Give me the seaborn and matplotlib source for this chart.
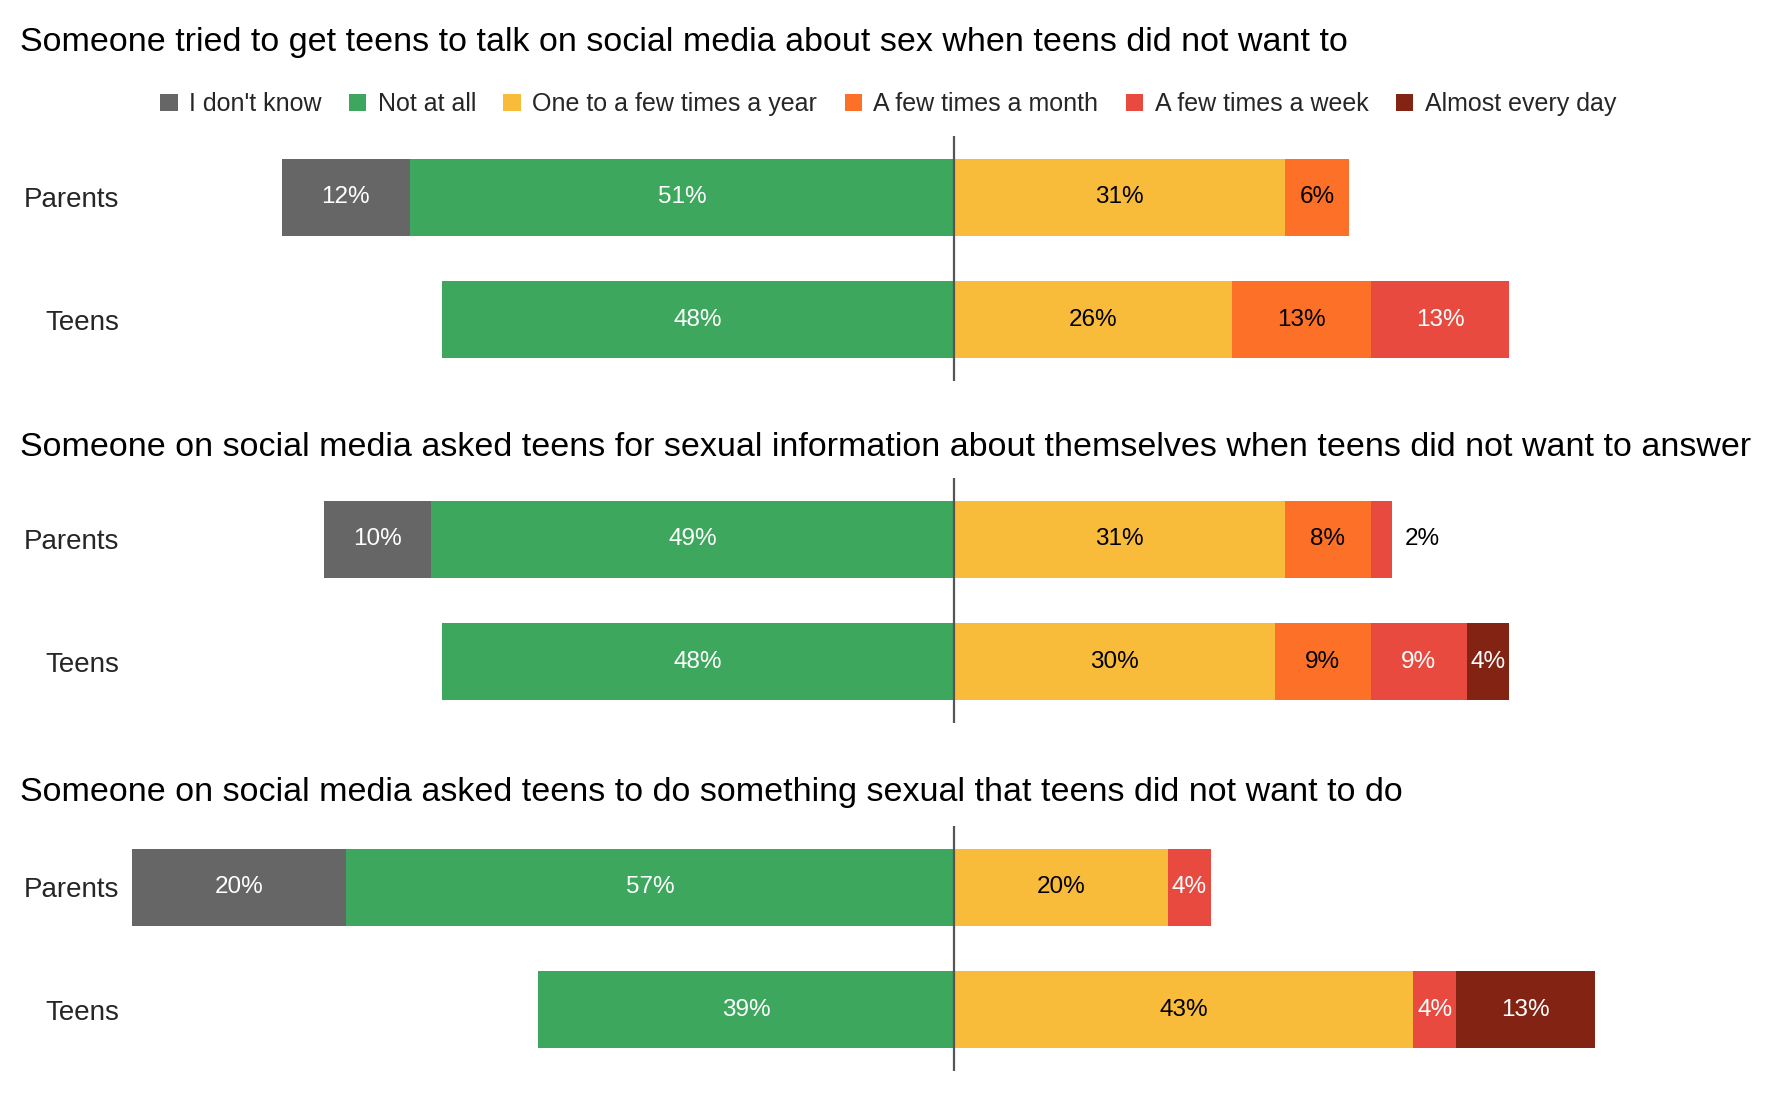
import pandas as pd
import numpy as np
import seaborn as sns
import matplotlib.pyplot as plt
from matplotlib.patches import Patch

sns.set_style("white")
plt.rcParams['font.family'] = ['Liberation Sans', 'DejaVu Sans']

groups = ["Parents", "Teens"]
categories = ["I don't know", "Not at all", "One to a few times a year",
              "A few times a month", "A few times a week", "Almost every day"]
colors = ["#666666", "#3da75d", "#f8bc3a", "#fc7127", "#e84a3f", "#832314"]
text_colors = ["white", "white", "black", "black", "white", "white"]

titles = [
    "Someone tried to get teens to talk on social media about sex when teens did not want to",
    "Someone on social media asked teens for sexual information about themselves when teens did not want to answer",
    "Someone on social media asked teens to do something sexual that teens did not want to do",
]

# percentages, same order as categories
q1_parents = [12, 51, 31, 6, 0, 0]
q1_teens = [0, 48, 26, 13, 13, 0]
q2_parents = [10, 49, 31, 8, 2, 0]
q2_teens = [0, 48, 30, 9, 9, 4]
q3_parents = [20, 57, 20, 0, 4, 0]
q3_teens = [0, 39, 43, 0, 4, 13]

questions = [(q1_parents, q1_teens), (q2_parents, q2_teens), (q3_parents, q3_teens)]

W, H = 1770, 1096
fig = plt.figure(figsize=(W / 100, H / 100), dpi=100)

panel_tops = [136, 478, 826]
panel_h = 245

for qi, (par, teen) in enumerate(questions):
    top = panel_tops[qi]
    ax = fig.add_axes([130 / W, 1 - (top + panel_h) / H, 1640 / W, panel_h / H])
    df = pd.DataFrame([par, teen], columns=categories)
    df["group"] = groups

    # left side: cumulative from the centre outwards
    left_cum = -(df["I don't know"] + df["Not at all"])
    sns.barplot(x=left_cum, y=df["group"], orient="h", color=colors[0], saturation=1,
                width=0.63, linewidth=0, errorbar=None, ax=ax)
    sns.barplot(x=-df["Not at all"], y=df["group"], orient="h", color=colors[1], saturation=1,
                width=0.63, linewidth=0, errorbar=None, ax=ax)

    # right side: draw longest cumulative first
    right_cats = categories[2:]
    cums = df[right_cats].cumsum(axis=1)
    for ci in range(len(right_cats) - 1, -1, -1):
        sns.barplot(x=cums[right_cats[ci]], y=df["group"], orient="h", color=colors[ci + 2],
                    saturation=1, width=0.63, linewidth=0, errorbar=None, ax=ax)

    # value labels
    for gi in range(2):
        vals = df.loc[gi, categories].values
        idk, notall = vals[0], vals[1]
        if idk > 0:
            ax.text(-(notall + idk / 2), gi, f"{idk}%", ha="center", va="center",
                    color=text_colors[0], fontsize=17.5)
        if notall > 0:
            ax.text(-notall / 2, gi, f"{notall}%", ha="center", va="center",
                    color=text_colors[1], fontsize=17.5)
        start = 0
        for ci in range(2, 6):
            v = vals[ci]
            if v > 0:
                if v < 3:
                    ax.text(start + v + 1.2, gi, f"{v}%", ha="left", va="center",
                            color="black", fontsize=17.5)
                else:
                    ax.text(start + v / 2, gi, f"{v}%", ha="center", va="center",
                            color=text_colors[ci], fontsize=17.5)
            start += v

    ax.axvline(0, color="#555555", lw=1.6)
    ax.set_xlim(-77.2, 76.4)
    ax.set_ylim(1.5, -0.5)
    ax.set_xlabel("")
    ax.set_ylabel("")
    ax.set_xticks([])
    ax.tick_params(axis="y", length=0, pad=8, labelsize=20)
    sns.despine(ax=ax, left=True, bottom=True)

title_y = [42, 448, 793]
for t, y in zip(titles, title_y):
    fig.text(20 / W, 1 - y / H, t, ha="left", va="center", fontsize=24.5, color="black")

handles = [Patch(facecolor=c, edgecolor="none") for c in colors]
fig.legend(handles, categories, loc="center", bbox_to_anchor=(888 / W, 1 - 104 / H), ncol=6,
           frameon=False, fontsize=18, handlelength=0.7, handleheight=0.7,
           handletextpad=0.45, columnspacing=1.1)

plt.savefig("out.png", dpi=100)
